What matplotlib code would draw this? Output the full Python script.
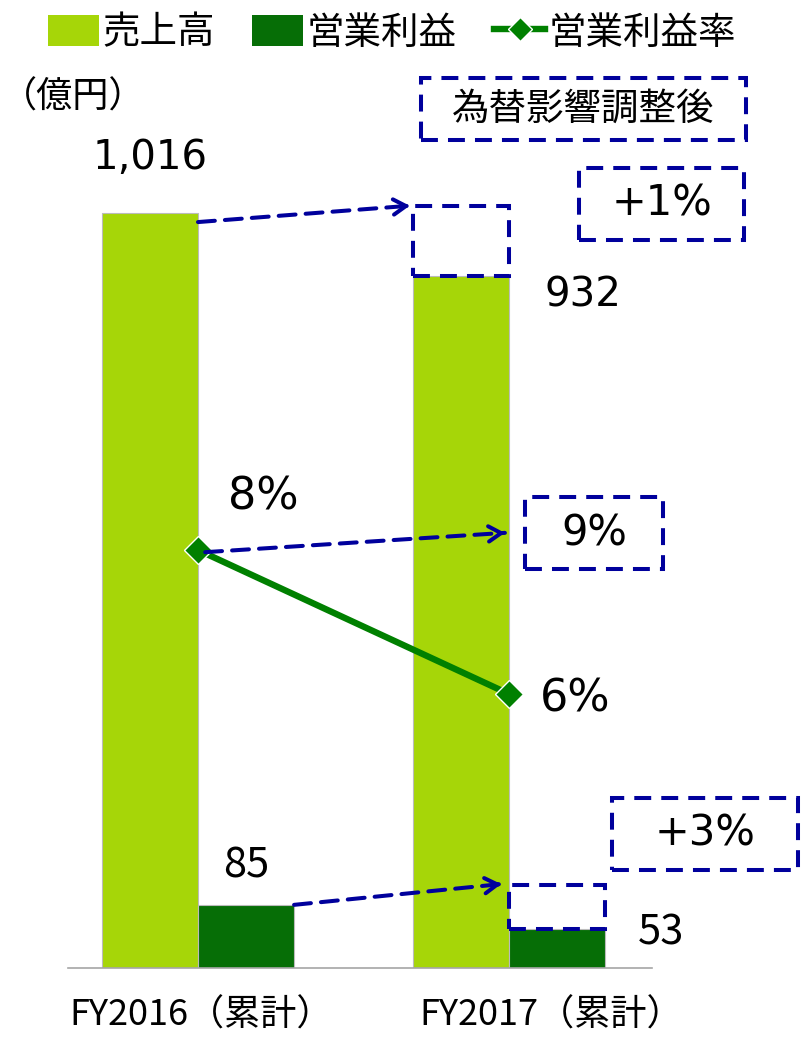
import matplotlib.pyplot as plt
from matplotlib.patches import Rectangle, Patch
from matplotlib.lines import Line2D

# data
categories = ["FY2016（累計）", "FY2017（累計）"]
sales = [1016, 932]              # 売上高 (億円)
op_profit = [85, 53]             # 営業利益 (億円)
op_margin = [8.37, 5.69]         # 営業利益率 (%)
margin_labels = ["8%", "6%"]
sales_adj = 1026                 # 為替影響調整後 売上高 (+1%)
op_adj_box = 112                 # drawn height of the adjusted op-profit box
margin_adj = 8.69                # arrow end for adjusted margin (9%)
notes = ["為替影響調整後", "+1%", "9%", "+3%"]

LIGHT = "#A6D608"
DARK = "#066E06"
LINE = "#008000"
NAVY = "#00009C"
JP = ["Noto Sans CJK JP", "DejaVu Sans"]
NUM = ["DejaVu Sans"]

W, H = 802, 1039
fig = plt.figure(figsize=(W / 100, H / 100), dpi=100)


def fx(px):
    return px / W


def fy(py):
    return 1 - py / H


ax = fig.add_axes([fx(68), fy(968), fx(652) - fx(68), fy(150) - fy(968)])
ax2 = ax.twinx()

x = [0, 1]
w = 0.309
ax.bar([i - w / 2 for i in x], sales, width=w, color=LIGHT, edgecolor="#BBBBBB", linewidth=0.8, zorder=2)
ax.bar([i + w / 2 for i in x], op_profit, width=w, color=DARK, edgecolor="#BBBBBB", linewidth=0.8, zorder=2)
ax.set_xlim(-0.418, 1.46)
ax.set_ylim(0, 1101)

ax2.plot(x, op_margin, color=LINE, lw=4.6, marker="D", markersize=14,
         markerfacecolor=LINE, markeredgecolor="white", markeredgewidth=1, zorder=5)
ax2.set_ylim(0.586, 15.82)

for a in (ax, ax2):
    for s in ("top", "left", "right"):
        a.spines[s].set_visible(False)
    a.set_xticks([])
    a.set_yticks([])
ax.spines["bottom"].set_color("#A6A6A6")
ax.spines["bottom"].set_linewidth(1.2)
ax2.spines["bottom"].set_visible(False)

# value labels
ax.annotate(f"{sales[0]:,}", xy=(x[0] - w / 2, sales[0]), xytext=(0, 25), textcoords="offset points",
            ha="center", va="bottom", fontsize=29, family=NUM)
ax.annotate(f"{sales[1]:,}", xy=(x[1] + w / 2, sales[1]), xytext=(19, -14), textcoords="offset points",
            ha="center", va="center", fontsize=29, family=NUM)
ax.annotate(str(op_profit[0]), xy=(x[0] + w / 2, op_profit[0]), xytext=(0, 28), textcoords="offset points",
            ha="center", va="center", fontsize=30, family=JP)
ax.annotate(str(op_profit[1]), xy=(x[1] + w / 2, op_profit[1]), xytext=(75, -3), textcoords="offset points",
            ha="center", va="center", fontsize=30, family=JP)
ax2.annotate(margin_labels[0], xy=(x[0], op_margin[0]), xytext=(47, 38), textcoords="offset points",
             ha="center", va="center", fontsize=32, family=NUM)
ax2.annotate(margin_labels[1], xy=(x[1], op_margin[1]), xytext=(48, -4), textcoords="offset points",
             ha="center", va="center", fontsize=32, family=NUM)

# category labels
for i, lab in enumerate(categories):
    off = 0.01 if i == 0 else 0.135
    ax.text(x[i] + off, -0.058, lab, transform=ax.get_xaxis_transform(), ha="center", va="center",
            fontsize=26, family=JP)

# dashed boxes for adjusted values
dash = (0, (4.2, 2.5))
ax.add_patch(Rectangle((x[1] - w, sales[1]), w, sales_adj - sales[1], fill=False,
                       edgecolor=NAVY, lw=2.9, linestyle=dash, zorder=4))
ax.add_patch(Rectangle((x[1], op_profit[1]), w, op_adj_box - op_profit[1], fill=False,
                       edgecolor=NAVY, lw=2.9, linestyle=dash, zorder=4))


def dashed_arrow(a, p0, p1):
    a.annotate("", xy=p1, xytext=p0,
               arrowprops=dict(arrowstyle="-", color=NAVY, lw=2.9, linestyle=dash, shrinkA=0, shrinkB=0),
               zorder=6)
    dx = (p1[0] - p0[0]) * 0.02
    dy = (p1[1] - p0[1]) * 0.02
    a.annotate("", xy=p1, xytext=(p1[0] - dx, p1[1] - dy),
               arrowprops=dict(arrowstyle="->,head_length=0.9,head_width=0.55", color=NAVY, lw=2.9,
                               shrinkA=0, shrinkB=0), zorder=6)


dashed_arrow(ax, (0.0, sales[0] - 12), (x[1] - w - 0.01, sales_adj))
dashed_arrow(ax, (w, op_profit[0]), (x[1] - 0.025, op_adj_box + 1))
dashed_arrow(ax2, (0.023, op_margin[0] - 0.04), (0.987, margin_adj))


def note_box(x0, y0, x1, y1, text, fam, size):
    fig.patches.append(Rectangle((fx(x0), fy(y1)), fx(x1) - fx(x0), fy(y0) - fy(y1), fill=False,
                                 edgecolor=NAVY, lw=2.9, linestyle=dash, transform=fig.transFigure,
                                 figure=fig, zorder=6))
    fig.text(fx((x0 + x1) / 2), fy((y0 + y1) / 2), text, ha="center", va="center",
             fontsize=size, family=fam)


note_box(421, 78, 746, 140, notes[0], JP, 27)
note_box(579, 168, 744, 240, notes[1], NUM, 30)
note_box(525, 497, 663, 569, notes[2], NUM, 30)
note_box(612, 798, 798, 870, notes[3], NUM, 30)

fig.text(fx(1), fy(98), "（億円）", ha="left", va="center", fontsize=26, family=JP)

handles = [Patch(facecolor=LIGHT), Patch(facecolor=DARK),
           Line2D([], [], color=LINE, lw=4.6, marker="D", markersize=12, markerfacecolor=LINE,
                  markeredgecolor="white")]
fig.legend(handles, ["売上高", "営業利益", "営業利益率"], loc="center", bbox_to_anchor=(fx(392), fy(33)),
           ncol=3, frameon=False, prop={"family": JP, "size": 27}, handlelength=1.35, handleheight=0.9,
           handletextpad=0.1, columnspacing=1.0, borderaxespad=0)

fig.savefig("out.png", dpi=100)
